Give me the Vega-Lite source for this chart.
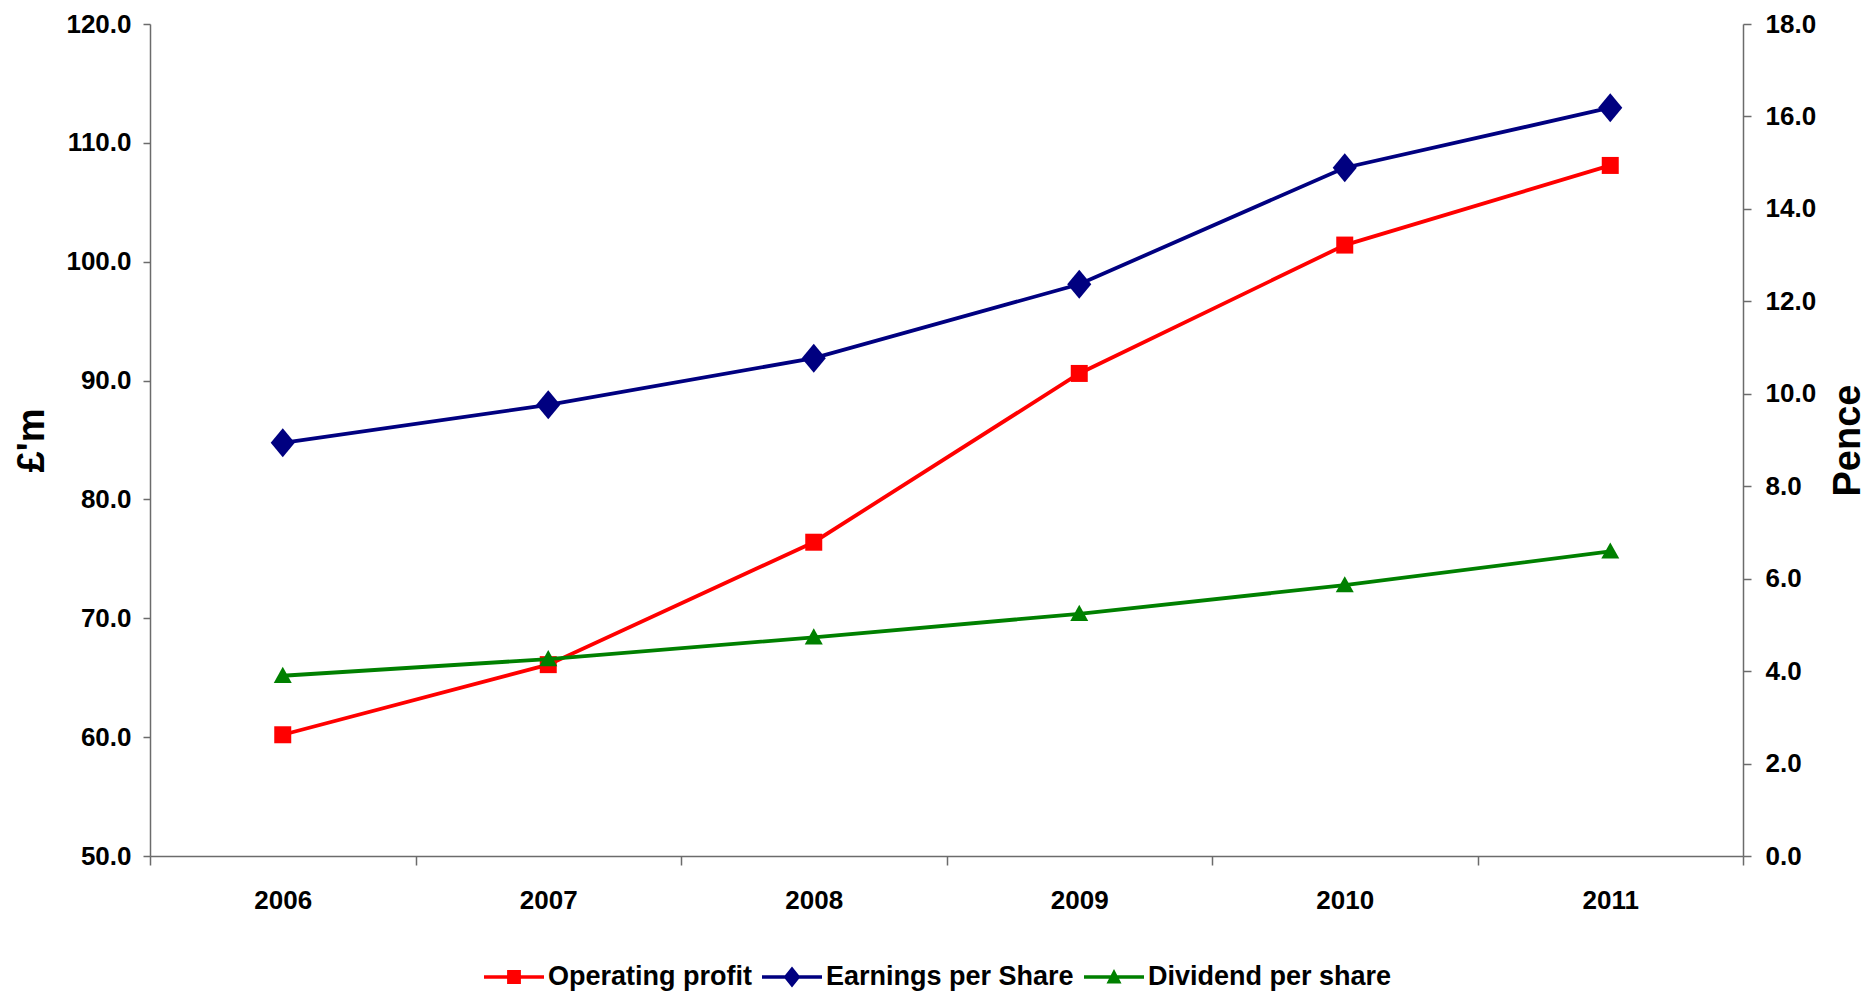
{
  "$schema": "https://vega.github.io/schema/vega-lite/v6.json",
  "width": 1593,
  "height": 832,
  "autosize": {"type": "none"},
  "padding": {"left": 150, "top": 24, "right": 132, "bottom": 141},
  "background": "white",
  "config": {
    "font": "Liberation Sans",
    "view": {"stroke": null},
    "axis": {
      "labelFont": "Liberation Sans",
      "labelFontWeight": "bold",
      "labelFontSize": 26,
      "labelColor": "#000000",
      "titleFont": "Liberation Sans",
      "titleFontWeight": "bold",
      "titleColor": "#000000",
      "domainColor": "#6b6b6b",
      "tickColor": "#6b6b6b",
      "domainWidth": 1.5,
      "tickWidth": 1.5,
      "grid": false
    }
  },
  "data": {
    "values": [
      {"year": "2006", "series": "Operating profit", "value": 60.2},
      {"year": "2007", "series": "Operating profit", "value": 66.1},
      {"year": "2008", "series": "Operating profit", "value": 76.4},
      {"year": "2009", "series": "Operating profit", "value": 90.6},
      {"year": "2010", "series": "Operating profit", "value": 101.4},
      {"year": "2011", "series": "Operating profit", "value": 108.1},
      {"year": "2006", "series": "Earnings per Share", "value": 8.94},
      {"year": "2007", "series": "Earnings per Share", "value": 9.76},
      {"year": "2008", "series": "Earnings per Share", "value": 10.77},
      {"year": "2009", "series": "Earnings per Share", "value": 12.37},
      {"year": "2010", "series": "Earnings per Share", "value": 14.89},
      {"year": "2011", "series": "Earnings per Share", "value": 16.19},
      {"year": "2006", "series": "Dividend per share", "value": 3.90},
      {"year": "2007", "series": "Dividend per share", "value": 4.26},
      {"year": "2008", "series": "Dividend per share", "value": 4.73},
      {"year": "2009", "series": "Dividend per share", "value": 5.24},
      {"year": "2010", "series": "Dividend per share", "value": 5.86},
      {"year": "2011", "series": "Dividend per share", "value": 6.59}
    ]
  },
  "encoding": {
    "x": {
      "field": "year",
      "type": "ordinal",
      "bandPosition": 0.5,
      "scale": {"type": "band", "paddingInner": 0, "paddingOuter": 0},
      "axis": {
        "title": null,
        "labelAngle": 0,
        "tickBand": "extent",
        "tickSize": 9,
        "labelPadding": 22
      }
    }
  },
  "layer": [
    {
      "encoding": {
        "y": {
          "field": "value",
          "type": "quantitative",
          "scale": {"domain": [50, 120], "nice": false, "zero": false},
          "axis": {
            "orient": "left",
            "title": "£'m",
            "titleFontSize": 38,
            "titlePadding": 14,
            "values": [50, 60, 70, 80, 90, 100, 110, 120],
            "format": ".1f",
            "tickSize": 7,
            "labelPadding": 12
          }
        }
      },
      "layer": [
        {
          "transform": [{"filter": "datum.series === 'Operating profit'"}],
          "mark": {
            "type": "line",
            "color": "#FF0000",
            "strokeWidth": 3.8,
            "point": {"shape": "square", "size": 289, "filled": true, "color": "#FF0000"}
          }
        },
        {
          "mark": {"type": "point", "filled": true, "opacity": 1, "clip": true},
          "encoding": {
            "y": {"datum": -1000, "type": "quantitative"},
            "color": {
              "field": "series",
              "type": "nominal",
              "scale": {
                "domain": ["Operating profit", "Earnings per Share", "Dividend per share"],
                "range": ["#FF0000", "#000080", "#008000"]
              },
              "legend": {
                "title": null,
                "orient": "none",
                "legendX": 334,
                "legendY": 923,
                "direction": "horizontal",
                "symbolSize": 3600,
                "symbolOpacity": 1,
                "symbolStrokeWidth": 0,
                "labelFont": "Liberation Sans",
                "labelFontSize": 27,
                "labelFontWeight": "bold",
                "labelColor": "#000000",
                "labelLimit": 500,
                "labelOffset": 4,
                "columnPadding": 10
              }
            },
            "shape": {
              "field": "series",
              "type": "nominal",
              "scale": {
                "domain": ["Operating profit", "Earnings per Share", "Dividend per share"],
                "range": [
                  "M-1,-0.055H1V0.055H-1Z M-0.23,-0.23H0.23V0.23H-0.23Z",
                  "M-1,-0.055H1V0.055H-1Z M0,-0.35L0.28,0L0,0.35L-0.28,0Z",
                  "M-1,-0.055H1V0.055H-1Z M-0.25,0.22L0,-0.27L0.25,0.22Z"
                ]
              }
            }
          }
        }
      ]
    },
    {
      "encoding": {
        "y": {
          "field": "value",
          "type": "quantitative",
          "scale": {"domain": [0, 18], "nice": false},
          "axis": {
            "orient": "right",
            "title": "Pence",
            "titleFontSize": 38,
            "titleAngle": 270,
            "titlePadding": 52,
            "values": [0, 2, 4, 6, 8, 10, 12, 14, 16, 18],
            "format": ".1f",
            "tickSize": 8,
            "labelPadding": 14
          }
        }
      },
      "layer": [
        {
          "transform": [{"filter": "datum.series === 'Earnings per Share'"}],
          "mark": {
            "type": "line",
            "color": "#000080",
            "strokeWidth": 3.8,
            "point": {"shape": "M0,-1L0.83,0L0,1L-0.83,0Z", "size": 841, "filled": true, "color": "#000080"}
          }
        },
        {
          "transform": [{"filter": "datum.series === 'Dividend per share'"}],
          "mark": {
            "type": "line",
            "color": "#008000",
            "strokeWidth": 3.8,
            "point": {"shape": "M-1,0.8L0,-1L1,0.8Z", "size": 324, "filled": true, "color": "#008000"}
          }
        }
      ]
    }
  ],
  "resolve": {"scale": {"y": "independent"}}
}
